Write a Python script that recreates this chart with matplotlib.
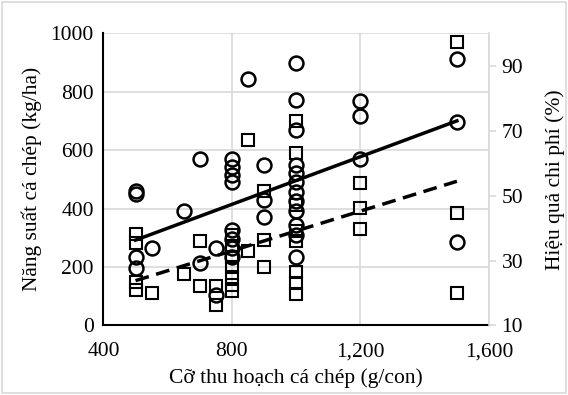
import matplotlib
matplotlib.use("Agg")
import matplotlib.pyplot as plt
from matplotlib.ticker import FuncFormatter
from matplotlib.patches import Rectangle

plt.rcParams['font.family'] = ['Liberation Serif', 'DejaVu Serif']

# yield (kg/ha), left axis, circles
yield_x = [500, 500, 500, 500, 550, 650, 700, 700, 750, 750,
           800, 800, 800, 800, 800, 800, 800, 800, 850, 900, 900, 900,
           1000, 1000, 1000, 1000, 1000, 1000, 1000, 1000, 1000, 1000, 1000, 1000,
           1200, 1200, 1200, 1500, 1500, 1500]
yield_y = [460, 450, 234, 196, 265, 390, 570, 213, 265, 105,
           570, 543, 515, 490, 325, 295, 265, 235, 843, 550, 430, 372,
           897, 772, 670, 549, 520, 490, 458, 425, 390, 345, 310, 235,
           769, 717, 568, 913, 697, 284]

# cost efficiency (%), right axis, squares
eff_x = [500, 500, 500, 500, 550, 650, 700, 700, 750, 750,
         800, 800, 800, 800, 800, 800, 800, 850, 850, 900, 900, 900,
         1000, 1000, 1000, 1000, 1000, 1000, 1000, 1000,
         1200, 1200, 1200, 1500, 1500, 1500]
eff_y = [38.2, 35.5, 23.5, 20.8, 20.0, 25.7, 36.0, 22.1, 22.3, 16.2,
         38.0, 34.5, 31.0, 28.0, 25.0, 22.5, 20.5, 33.0, 67.0, 51.5, 36.2, 28.0,
         73.0, 63.0, 47.0, 39.0, 36.0, 26.5, 23.0, 19.8,
         54.0, 46.2, 39.8, 97.4, 44.6, 19.9]

# trend lines
trend_x = [500, 1500]
yield_trend = [292, 700]
eff_trend = [23.8, 54.4]

fs = 15.5
fig = plt.figure(figsize=(5.68, 3.95), dpi=100)
fig.patches.append(Rectangle((0.003, 0.004), 0.994, 0.992, transform=fig.transFigure,
                             fill=False, edgecolor='#d9d9d9', linewidth=1.2))
ax = fig.add_axes([0.182, 0.176, 0.679, 0.740])
ax2 = ax.twinx()

grid_c = '#d9d9d9'
ax.set_xlim(400, 1600)
ax.set_ylim(0, 1000)
ax.set_xticks([400, 800, 1200, 1600])
ax.set_yticks(range(0, 1001, 200))
ax.xaxis.set_major_formatter(FuncFormatter(lambda v, p: f"{int(v):,}"))
ax.grid(True, color=grid_c, linewidth=1.2)
ax.set_axisbelow(True)
ax.tick_params(axis='x', length=0, labelsize=fs, pad=12)
ax.tick_params(axis='y', length=0, labelsize=fs, pad=7)
ax.spines['left'].set_color('black')
ax.spines['left'].set_linewidth(1.5)
ax.spines['bottom'].set_color('black')
ax.spines['bottom'].set_linewidth(1.5)
ax.spines['top'].set_visible(False)
ax.spines['right'].set_visible(False)

ax2.set_ylim(10, 100)
ax2.set_yticks([10, 30, 50, 70, 90])
ax2.tick_params(axis='y', length=5, color=grid_c, width=1.2, labelsize=fs, pad=4)
for s in ['left', 'bottom', 'top']:
    ax2.spines[s].set_visible(False)
ax2.spines['right'].set_color(grid_c)
ax2.spines['right'].set_linewidth(1.2)

ax.plot(yield_x, yield_y, linestyle='none', marker='o', markersize=10,
        markerfacecolor='none', markeredgecolor='black', markeredgewidth=1.8)
ax.plot(trend_x, yield_trend, color='black', linewidth=2.5)

ax2.plot(eff_x, eff_y, linestyle='none', marker='s', markersize=9,
         markerfacecolor='none', markeredgecolor='black', markeredgewidth=1.5)
ax2.plot(trend_x, eff_trend, color='black', linewidth=2.5, linestyle=(0, (4, 2.2)))

ax.set_xlabel('Cỡ thu hoạch cá chép (g/con)', fontsize=fs, labelpad=5)
ax.set_ylabel('Năng suất cá chép (kg/ha)', fontsize=fs, labelpad=6)
ax2.set_ylabel('Hiệu quả chi phí (%)', fontsize=fs, labelpad=16)

fig.savefig('out.png', dpi=100)
